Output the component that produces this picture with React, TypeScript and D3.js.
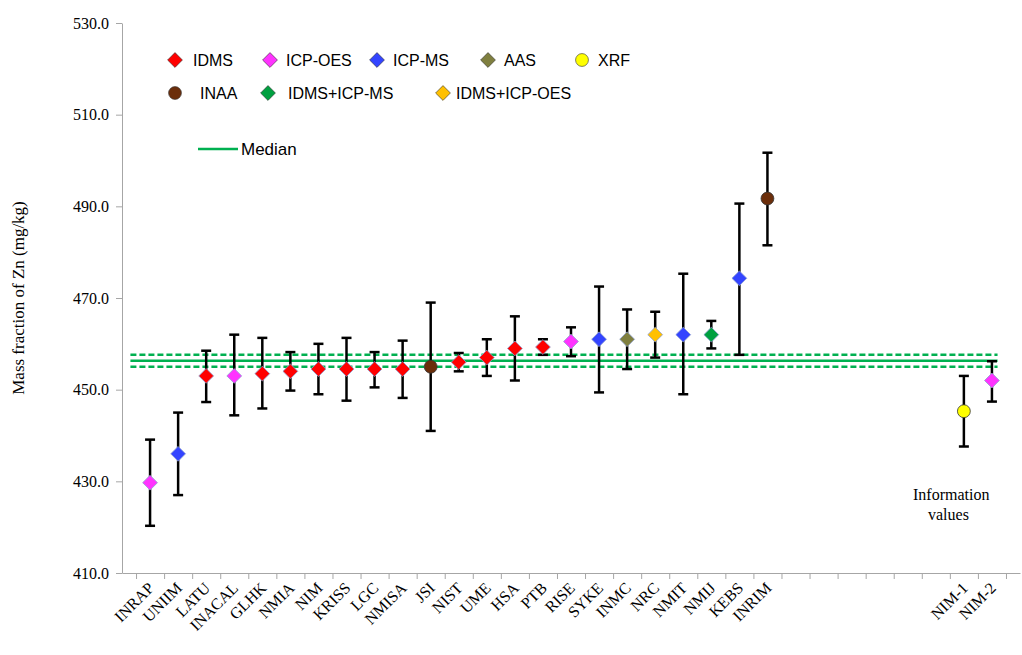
import {useEffect, useRef} from "react";
import * as d3 from "d3";

const labs = ["INRAP","UNIIM","LATU","INACAL","GLHK","NMIA","NIM","KRISS","LGC","NMISA","JSI","NIST","UME","HSA","PTB","RISE","SYKE","INMC","NRC","NMIT","NMIJ","KEBS","INRIM","NIM-1","NIM-2"];
const slot = [0,1,2,3,4,5,6,7,8,9,10,11,12,13,14,15,16,17,18,19,20,21,22,29,30];
const vals = [429.7,436,453,453,453.5,454,454.5,454.5,454.5,454.5,455,456,457,459,459.3,460.5,461,461,462,462,462,474.3,491.7,445.3,452];
const lo = [420.3,427,447.3,444.4,445.9,449.8,449,447.6,450.5,448.2,441,454,453,452,457.6,457.3,449.4,454.5,457,449,459,457.6,481.5,437.6,447.4];
const hi = [439.1,445,458.5,462,461.3,458.2,460,461.3,458.2,460.7,469,458,461,466,461,463.6,472.5,467.5,467,475.3,465,490.6,501.7,453,456.2];
const meth = ["ICP-OES","ICP-MS","IDMS","ICP-OES","IDMS","IDMS","IDMS","IDMS","IDMS","IDMS","INAA","IDMS","IDMS","IDMS","IDMS","ICP-OES","ICP-MS","AAS","IDMS+ICP-OES","ICP-MS","IDMS+ICP-MS","ICP-MS","INAA","XRF","ICP-OES"];
const methods = ["IDMS","ICP-OES","ICP-MS","AAS","XRF","INAA","IDMS+ICP-MS","IDMS+ICP-OES"];
const colors = ["#ff0000","#ff33ff","#3344ff","#7f7f3f","#ffff00","#6b2e0b","#00a040","#ffc000"];
const circles = ["XRF","INAA"];
const median = 456.3, medLo = 455.0, medHi = 457.6;
const yTicks = [410,430,450,470,490,510,530];

export default function App() {
  const ref = useRef(null);
  useEffect(() => {
    const svg = d3.select(ref.current);
    svg.selectAll("*").remove();
    const x = d3.scaleLinear().domain([-1, 31]).range([122, 1020]);
    const y = d3.scaleLinear().domain([410, 530]).range([573, 23]);
    const col = d3.scaleOrdinal<string, string>().domain(methods).range(colors);

    svg.append("g").attr("transform", "translate(122,0)")
      .call(d3.axisLeft(y).tickValues(yTicks).tickFormat(d3.format(".1f")).tickSize(6).tickSizeOuter(0))
      .call(g => g.select(".domain").attr("stroke", "#a6a6a6"))
      .call(g => g.selectAll("line").attr("stroke", "#a6a6a6"))
      .call(g => g.selectAll("text").attr("font-family", "Liberation Serif").attr("font-size", 16).attr("fill", "#000").attr("dx", -4));
    const xa = svg.append("g").attr("transform", "translate(0,573)")
      .call(d3.axisBottom(x).tickValues(d3.range(-1, 31).map(d => d + 0.5)).tickFormat(() => "").tickSize(6).tickSizeOuter(0))
      .call(g => g.select(".domain").attr("stroke", "#a6a6a6"))
      .call(g => g.selectAll("line").attr("stroke", "#a6a6a6"));
    xa.selectAll(".lab").data(labs).join("text")
      .attr("transform", (d, i) => `translate(${x(slot[i]) + 5},16) rotate(-45)`)
      .attr("text-anchor", "end").attr("font-family", "Liberation Serif").attr("font-size", 16).attr("fill", "#000").text(d => d);

    svg.append("text").attr("transform", `translate(24,${y(470)}) rotate(-90)`).attr("text-anchor", "middle")
      .attr("font-family", "Liberation Serif").attr("font-size", 17).text("Mass fraction of Zn (mg/kg)");

    // median lines
    const g0 = svg.append("g");
    g0.append("line").attr("x1", x(-0.7)).attr("x2", x(30.2)).attr("y1", y(median)).attr("y2", y(median)).attr("stroke", "#00b050").attr("stroke-width", 2.5);
    [medLo, medHi].forEach(v => g0.append("line").attr("x1", x(-0.7)).attr("x2", x(30.2)).attr("y1", y(v)).attr("y2", y(v))
      .attr("stroke", "#00b050").attr("stroke-width", 2.5).attr("stroke-dasharray", "6,3"));

    const pts = svg.append("g").selectAll("g").data(labs).join("g").attr("transform", (d, i) => `translate(${x(slot[i])},0)`);
    pts.append("line").attr("y1", (d, i) => y(lo[i])).attr("y2", (d, i) => y(hi[i])).attr("stroke", "#000").attr("stroke-width", 2.5);
    [lo, hi].forEach(arr => pts.append("line").attr("x1", -5).attr("x2", 5).attr("y1", (d, i) => y(arr[i])).attr("y2", (d, i) => y(arr[i])).attr("stroke", "#000").attr("stroke-width", 2.5));
    const sym = (m: string) => d3.symbol().type(circles.includes(m) ? d3.symbolCircle : d3.symbolDiamond2).size(circles.includes(m) ? 130 : 140)();
    pts.append("path").attr("transform", (d, i) => `translate(0,${y(vals[i])})`).attr("d", (d, i) => sym(meth[i]))
      .attr("fill", (d, i) => col(meth[i])).attr("stroke", (d, i) => circles.includes(meth[i]) ? "#333" : "#8ea0d0").attr("stroke-width", 0.8);

    svg.append("text").attr("x", 913).attr("y", 500).attr("font-family", "Liberation Serif").attr("font-size", 16).text("Information");
    svg.append("text").attr("x", 928).attr("y", 503 + 17).attr("font-family", "Liberation Serif").attr("font-size", 16).text("values");

    // legend
    const lp: [number, number, number][] = [[175,60,193],[270,60,286],[377,60,393],[488,60,504],[582,60,598],[175,93,200],[268,93,288],[443,93,456]];
    const lg = svg.append("g");
    methods.forEach((m, i) => {
      const [sx, sy, tx] = lp[i];
      lg.append("path").attr("transform", `translate(${sx},${sy})`).attr("d", sym(m)).attr("fill", col(m)).attr("stroke", "#333").attr("stroke-width", 0.6);
      lg.append("text").attr("x", tx).attr("y", sy + 6).attr("font-family", "Liberation Sans").attr("font-size", 16).text(m);
    });
    lg.append("line").attr("x1", 198).attr("x2", 238).attr("y1", 149).attr("y2", 149).attr("stroke", "#00b050").attr("stroke-width", 2.5);
    lg.append("text").attr("x", 241).attr("y", 155).attr("font-family", "Liberation Sans").attr("font-size", 17).text("Median");
  }, []);
  return <svg ref={ref} width={1022} height={655} style={{position: "absolute", left: 0, top: 0, background: "#fff"}} />;
}
